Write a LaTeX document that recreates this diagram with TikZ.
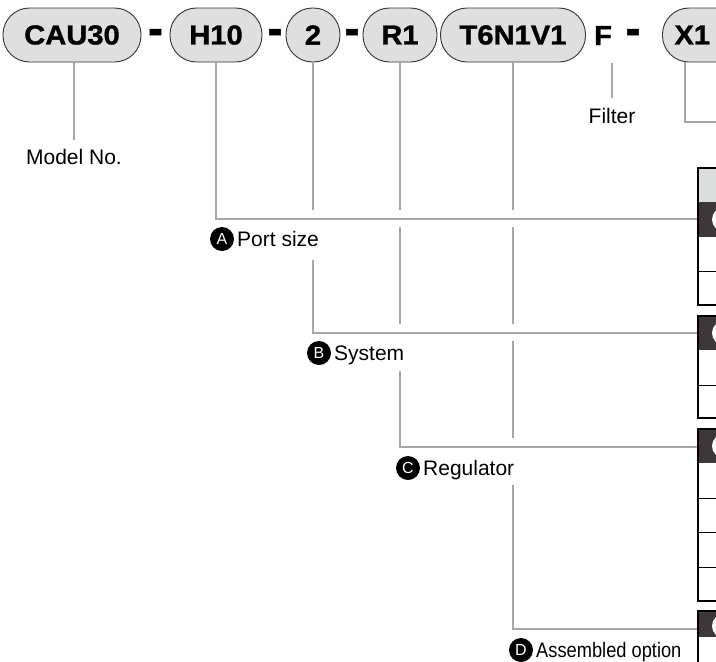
\documentclass[tikz,border=0pt]{standalone}
\usepackage{fontspec}
\usepackage{graphicx}
\setmainfont{Liberation Sans}
\newfontfamily\pillfont[FakeStretch=1.06,FakeBold=1.2]{Liberation Sans Bold}
\definecolor{leadgray}{HTML}{A6A6A6}
\definecolor{pillfill}{HTML}{DFDFDF}
\definecolor{pillline}{HTML}{333333}
\definecolor{darkrow}{HTML}{3D3737}
\definecolor{headgray}{HTML}{DCDDDD}
\tikzset{
  pill/.style={draw=pillline, line width=0.9pt, fill=pillfill, rounded corners=26.5pt,
    minimum height=54pt, inner sep=0pt, font=\pillfont\fontsize{27.5}{30}\selectfont},
  sepmark/.style={inner sep=0pt, font=\pillfont\fontsize{27.5}{30}\selectfont},
  lead/.style={draw=leadgray, line width=2.3pt},
  lbl/.style={inner sep=0pt, font=\fontsize{21}{24}\selectfont, text=black},
  badge/.style={circle, fill=black, text=white, minimum size=24pt, inner sep=0pt,
    font=\fontsize{16}{16}\selectfont},
  tborder/.style={draw=black, line width=2.5pt},
  tline/.style={draw=black, line width=1pt}
}
\newcommand{\dashmark}{\scalebox{1.5}[1.8]{-}}
\begin{document}
\begin{tikzpicture}[x=1pt,y=-1pt]
\useasboundingbox (0,0) rectangle (716,662);
\clip (0,0) rectangle (716,662);
\fill[white] (0,0) rectangle (716,662);

% ---- code pills ----
\node[pill, minimum width=138pt] (cau) at (72,35) {CAU30};
\node[sepmark, anchor=base] (d1) at (155.5,45) {\dashmark};
\node[pill, minimum width=92pt] (h10) at (216,35) {H10};
\node[sepmark, anchor=base] (d2) at (275,45) {\dashmark};
\node[pill, minimum width=54pt] (two) at (313,35) {2};
\node[sepmark, anchor=base] (d3) at (352,45) {\dashmark};
\node[pill, minimum width=74pt] (r1) at (400,35) {R1};
\node[pill, minimum width=145pt] (t6) at (513,35) {T6N1V1};
\node[sepmark, anchor=base] (f) at (603,45) {F};
\node[sepmark, anchor=base] (d4) at (633,45) {\dashmark};
\node[pill, anchor=west, text width=62pt, align=left, inner xsep=12pt] (x1) at (662,35) {X1};

% ---- tables (right edge) ----
\fill[headgray] (698,168) rectangle (740,202);
\fill[darkrow] (698,202) rectangle (740,237);
\draw[tline] (698,271) -- (740,271);
\draw[tborder] (698,168) rectangle (740,305);
\fill[white] (724,219.5) circle (12);

\fill[darkrow] (698,316) rectangle (740,350);
\draw[tline] (698,385) -- (740,385);
\draw[tborder] (698,316) rectangle (740,418);
\fill[white] (724,333) circle (12);

\fill[darkrow] (698,429) rectangle (740,463);
\draw[tline] (698,498) -- (740,498);
\draw[tline] (698,532) -- (740,532);
\draw[tline] (698,567) -- (740,567);
\draw[tborder] (698,429) rectangle (740,601);
\fill[white] (724,446) circle (12);

\fill[darkrow] (698,611) rectangle (740,637);
\draw[tborder] (698,611) rectangle (740,700);
\fill[white] (724,626) circle (12);

\coordinate (tA) at (697,219);
\coordinate (tB) at (697,333);
\coordinate (tC) at (697,447);
\coordinate (tD) at (697,629);
\coordinate (xend) at (717,122);

% ---- labels ----
\node[lbl] (mlbl) at (74,157) {Model No.};
\node[lbl] (flbl) at (612,116) {Filter};
\node[badge] (bA) at (222,239) {A};
\node[lbl, anchor=base west] (lA) at (237,246.5) {Port size};
\node[badge] (bB) at (319,353) {B};
\node[lbl, anchor=base west] (lB) at (334,360.5) {System};
\node[badge] (bC) at (408,468) {C};
\node[lbl, anchor=base west] (lC) at (423,475.5) {Regulator};
\node[badge] (bD) at (521,650) {D};
\node[lbl, anchor=base west] (lD) at (536,657.5) {\scalebox{0.87}[1]{Assembled option}};

% ---- leader lines ----
\draw[lead] (cau.south -| mlbl) -- (mlbl.north |- 0,140);
\draw[lead] (flbl.north |- 0,63) -- (flbl.north |- 0,98);
\draw[lead] ([xshift=23pt]x1.south west) |- (xend);

\draw[lead] (h10.south) |- (tA);

\draw[lead] (two.south) -- (two.south |- 0,210);
\draw[lead] (two.south |- 0,260) |- (tB);

\draw[lead] (r1.south) -- (r1.south |- 0,210);
\draw[lead] (r1.south |- 0,227) -- (r1.south |- 0,324);
\draw[lead] (r1.south |- 0,371) |- (tC);

\draw[lead] (t6.south) -- (t6.south |- 0,210);
\draw[lead] (t6.south |- 0,227) -- (t6.south |- 0,324);
\draw[lead] (t6.south |- 0,341) -- (t6.south |- 0,438);
\draw[lead] (t6.south |- 0,485) |- (tD);
\end{tikzpicture}
\end{document}
